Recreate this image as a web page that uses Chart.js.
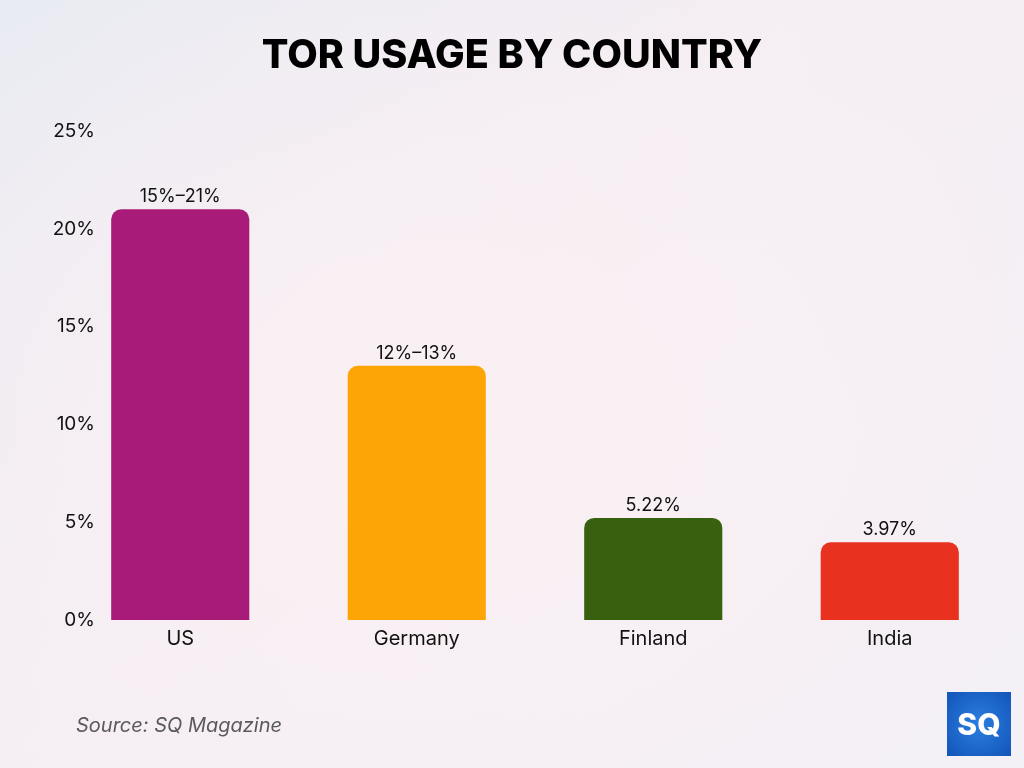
<!DOCTYPE html>
<html>
<head>
<meta charset="utf-8">
<script src="https://cdn.jsdelivr.net/npm/chart.js@4"></script>
<style>
  html, body { margin: 0; padding: 0; width: 1024px; height: 768px; overflow: hidden; }
  body {
    background:
      radial-gradient(ellipse 700px 500px at 420px 420px, rgba(250,240,243,1) 0%, rgba(250,240,243,0) 100%),
      linear-gradient(135deg, #e8ebf3 0%, #f5eef3 45%, #f3f0f6 100%);
    position: relative;
    font-family: Inter, "Noto Sans", sans-serif;
  }
  #wrap { position: absolute; left: 0; top: 0; width: 1024px; height: 768px; }
  #source {
    position: absolute; left: 76px; top: 713px;
    font-family: Inter, "Noto Sans", sans-serif; font-style: italic;
    font-size: 20px; color: #5a5a5a;
  }
  #logo {
    position: absolute; left: 947px; top: 692px; width: 64px; height: 64px;
    background: radial-gradient(circle at 50% 50%, #2a7fe0 0%, #1354b8 100%);
    color: #fff; font-family: Inter, sans-serif; font-weight: 800; font-size: 30px;
    display: flex; align-items: center; justify-content: center;
  }
</style>
</head>
<body>
<div id="wrap"><canvas id="c" width="1024" height="768"></canvas></div>
<div id="source">Source: SQ Magazine</div>
<div id="logo">SQ</div>
<script>
const categories = ["US", "Germany", "Finland", "India"];
const values = [21, 13, 5.22, 3.97];
const valueLabels = ["15%–21%", "12%–13%", "5.22%", "3.97%"];
const barColors = ["#a91b78", "#fca504", "#37600f", "#e8321f"];
const yTicks = [0, 5, 10, 15, 20, 25];
const titleText = 'TOR USAGE BY COUNTRY';

const FONT = 'Inter, "Noto Sans", sans-serif';
const Y_FONT_SIZE = 19;

// Width of the widest y tick label, for right-aligning labels at x=95
function widestYLabel() {
  const c = document.createElement('canvas').getContext('2d');
  c.font = `400 ${Y_FONT_SIZE}px ${FONT}`;
  return Math.max(...yTicks.map(v => c.measureText(v + '%').width));
}

const centeredTitlePlugin = {
  id: 'centeredTitle',
  afterDraw(chart) {
    const ctx = chart.ctx;
    ctx.save();
    ctx.font = `800 39.5px ${FONT}`;
    ctx.fillStyle = '#000000';
    ctx.textAlign = 'center';
    ctx.textBaseline = 'middle';
    ctx.fillText(titleText, chart.width / 2, 56);
    ctx.restore();
  }
};

const valueLabelPlugin = {
  id: 'valueLabels',
  afterDatasetsDraw(chart) {
    const ctx = chart.ctx;
    const meta = chart.getDatasetMeta(0);
    ctx.save();
    ctx.font = `400 18px ${FONT}`;
    ctx.fillStyle = '#111111';
    ctx.textAlign = 'center';
    ctx.textBaseline = 'alphabetic';
    meta.data.forEach((bar, i) => {
      ctx.fillText(valueLabels[i], bar.x, bar.y - 7);
    });
    ctx.restore();
  }
};

const yPad = 95 - 62 - widestYLabel();

new Chart(document.getElementById('c'), {
  type: 'bar',
  data: {
    labels: categories,
    datasets: [{
      data: values,
      backgroundColor: barColors,
      borderRadius: { topLeft: 10, topRight: 10, bottomLeft: 0, bottomRight: 0 },
      borderSkipped: 'bottom',
      categoryPercentage: 1.0,
      barPercentage: 0.584
    }]
  },
  options: {
    responsive: false,
    animation: false,
    devicePixelRatio: 1,
    layout: { padding: { left: 0, right: 16, top: 131, bottom: 110 } },
    plugins: {
      legend: { display: false },
      tooltip: { enabled: false },
      title: { display: false }
    },
    scales: {
      x: {
        grid: { display: false, drawTicks: false },
        border: { display: false },
        ticks: {
          color: '#111111',
          padding: 7,
          font: { family: FONT, size: 20 }
        }
      },
      y: {
        min: 0, max: 25,
        grid: { display: false, drawTicks: false },
        border: { display: false },
        afterBuildTicks(scale) { scale.ticks = yTicks.map(v => ({ value: v })); },
        afterFit(scale) { scale.width = 62; },
        ticks: {
          color: '#111111',
          mirror: true,
          crossAlign: 'far',
          padding: yPad,
          font: { family: FONT, size: Y_FONT_SIZE },
          callback: v => v + '%'
        }
      }
    }
  },
  plugins: [valueLabelPlugin, centeredTitlePlugin]
});
</script>
</body>
</html>
